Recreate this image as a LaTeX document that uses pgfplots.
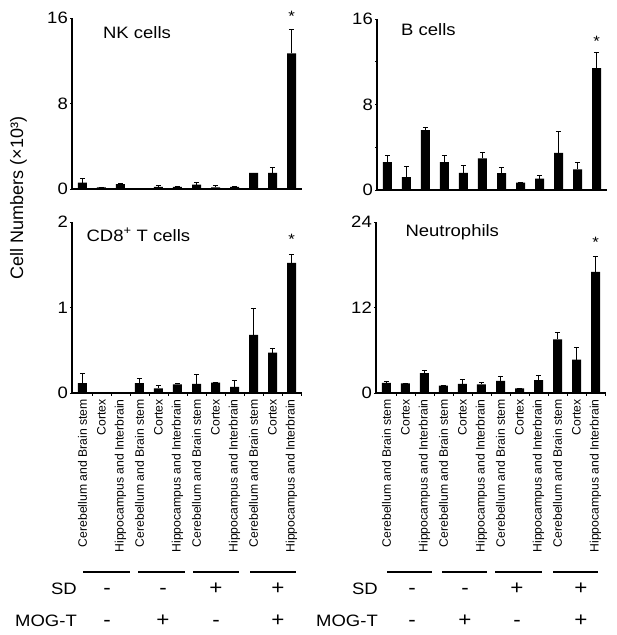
\documentclass[border=0pt]{standalone}
\usepackage{pgfplots}
\usepackage{pgfplotstable}
\usepackage{fontspec}
\pgfplotsset{compat=1.18}
\setmainfont{Liberation Sans}
\newfontfamily\hfont[FakeStretch=1.12]{Liberation Sans}
\newfontfamily\lfont{Liberation Sans}

\pgfplotstableread{
x y e
0 0.60 0.35
1 0.15 0
2 0.45 0.05
3 0.05 0
4 0.20 0.10
5 0.20 0.05
6 0.40 0.25
7 0.15 0.15
8 0.20 0.05
9 1.50 0
10 1.50 0.55
11 12.7 2.2
}\nk
\pgfplotstableread{
x y e
0 2.6 0.6
1 1.2 1.0
2 5.6 0.3
3 2.6 0.65
4 1.6 0.7
5 2.95 0.55
6 1.57 0.56
7 0.7 0
8 1.07 0.31
9 3.48 2.02
10 1.94 0.66
11 11.4 1.45
}\bcells
\pgfplotstableread{
x y e
0 0.115 0.115
1 0 0
2 0 0
3 0.115 0.055
4 0.054 0.036
5 0.10 0.015
6 0.108 0.107
7 0.12 0
8 0.073 0.073
9 0.68 0.305
10 0.473 0.054
11 1.523 0.097
}\cdeight
\pgfplotstableread{
x y e
0 1.41 0.29
1 1.36 0.05
2 2.78 0.37
3 1.03 0.05
4 1.27 0.61
5 1.22 0.28
6 1.69 0.71
7 0.66 0
8 1.79 0.75
9 7.53 0.94
10 4.7 1.65
11 17.0 2.15
}\neutro

\pgfplotsset{
  panel/.style={
    scale only axis, width=230pt, height=171pt,
    xmin=-0.55, xmax=11.55, ymin=0,
    axis x line*=bottom, axis y line*=left,
    axis line style={line width=1.1pt, -},
    tick align=outside, major tick length=2pt,
    tick style={line width=0.8pt, black},
    /pgf/number format/assume math mode=true,
    yticklabel style={font=\hfont\fontsize{16.5}{17}\selectfont, inner sep=2pt},
    clip=false,
  },
  toppanel/.style={panel, xtick=\empty},
  botpanel/.style={panel,
    xtick={0,...,11},
    xticklabels={Cerebellum and Brain stem, Cortex, Hippocampus and Interbrain,
                 Cerebellum and Brain stem, Cortex, Hippocampus and Interbrain,
                 Cerebellum and Brain stem, Cortex, Hippocampus and Interbrain,
                 Cerebellum and Brain stem, Cortex, Hippocampus and Interbrain},
    x tick style={draw=none},
    minor xtick={0.5,1.5,...,11.5},
    minor x tick style={line width=0.8pt, black, draw},
    minor tick length=3pt,
    xticklabel style={rotate=90, anchor=east, font=\lfont\fontsize{12.2}{13}\selectfont, inner sep=4pt},
  },
  bars/.style={ybar, bar width=9pt, fill=black, draw=none,
    error bars/.cd, y dir=plus, y explicit,
    error bar style={line width=0.7pt, black},
    error mark options={rotate=90, mark size=2.6pt, line width=0.7pt, black}},
}

\begin{document}
\begin{tikzpicture}[x=1pt,y=1pt]
\path[use as bounding box] (0,0) rectangle (617,635);

% NK cells
\begin{axis}[toppanel, at={(72pt,446pt)}, anchor=south west, ymax=16, ytick={0,8,16}]
\addplot[bars] table[x=x, y=y, y error=e] {\nk};
\node[anchor=west, font=\hfont\fontsize{16.5}{17}\selectfont] at (rel axis cs:0.12,0.913) {NK cells};
\node[font=\hfont\fontsize{15}{15}\selectfont] at (axis cs:11,16.2) {*};
\end{axis}

% B cells
\begin{axis}[toppanel, at={(377pt,445pt)}, anchor=south west, ymax=16, ytick={0,8,16}, minor ytick={4,12}, minor tick length=2pt]
\addplot[bars] table[x=x, y=y, y error=e] {\bcells};
\node[anchor=west, font=\hfont\fontsize{16.5}{17}\selectfont] at (rel axis cs:0.09,0.94) {B cells};
\node[font=\hfont\fontsize{15}{15}\selectfont] at (axis cs:11,13.9) {*};
\end{axis}

% CD8+ T cells
\begin{axis}[botpanel, at={(72pt,242pt)}, anchor=south west, ymax=2, ytick={0,1,2}]
\addplot[bars] table[x=x, y=y, y error=e] {\cdeight};
\node[anchor=west, font=\hfont\fontsize{16.5}{17}\selectfont] at (rel axis cs:0.048,0.925) {CD8\textsuperscript{+} T cells};
\node[font=\hfont\fontsize{15}{15}\selectfont] at (axis cs:11,1.8) {*};
\end{axis}

% Neutrophils
\begin{axis}[botpanel, at={(376pt,242pt)}, anchor=south west, ymax=24, ytick={0,12,24}]
\addplot[bars] table[x=x, y=y, y error=e] {\neutro};
\node[anchor=west, font=\hfont\fontsize{16.5}{17}\selectfont] at (rel axis cs:0.113,0.94) {Neutrophils};
\node[font=\hfont\fontsize{15}{15}\selectfont] at (axis cs:11,21.2) {*};
\end{axis}

% y label
\node[rotate=90, font=\lfont\fontsize{18}{18}\selectfont] at (18.5,437) {Cell Numbers (×10³)};

% group lines
\begin{scope}[line width=1.2pt]
\draw (83,63) -- (130,63); \draw (138,63) -- (185,63);
\draw (193,63) -- (239,63); \draw (250,63) -- (296,63);
\draw (387,63) -- (432,63); \draw (442,63) -- (487,63);
\draw (495,63) -- (542,63); \draw (553,63) -- (598,63);
\end{scope}

% treatment rows
\begin{scope}[every node/.style={font=\hfont\fontsize{16.5}{17}\selectfont, inner sep=0pt}]
\node[anchor=base east] at (77,40) {SD};
\node[anchor=base east] at (77,9) {MOG-T};
\node[anchor=base east] at (378,40) {SD};
\node[anchor=base east] at (378,9) {MOG-T};
\end{scope}
\begin{scope}[every node/.style={font=\hfont\fontsize{20}{20}\selectfont, inner sep=0pt, anchor=base}]
\node at (107,40) {-}; \node at (163,40) {-}; \node at (216,40) {+}; \node at (278,40) {+};
\node at (107,9) {-}; \node at (163,9) {+}; \node at (216,9) {-}; \node at (278,9) {+};
\node at (412,40) {-}; \node at (465,40) {-}; \node at (517,40) {+}; \node at (581,40) {+};
\node at (412,9) {-}; \node at (465,9) {+}; \node at (517,9) {-}; \node at (581,9) {+};
\end{scope}
\end{tikzpicture}
\end{document}
